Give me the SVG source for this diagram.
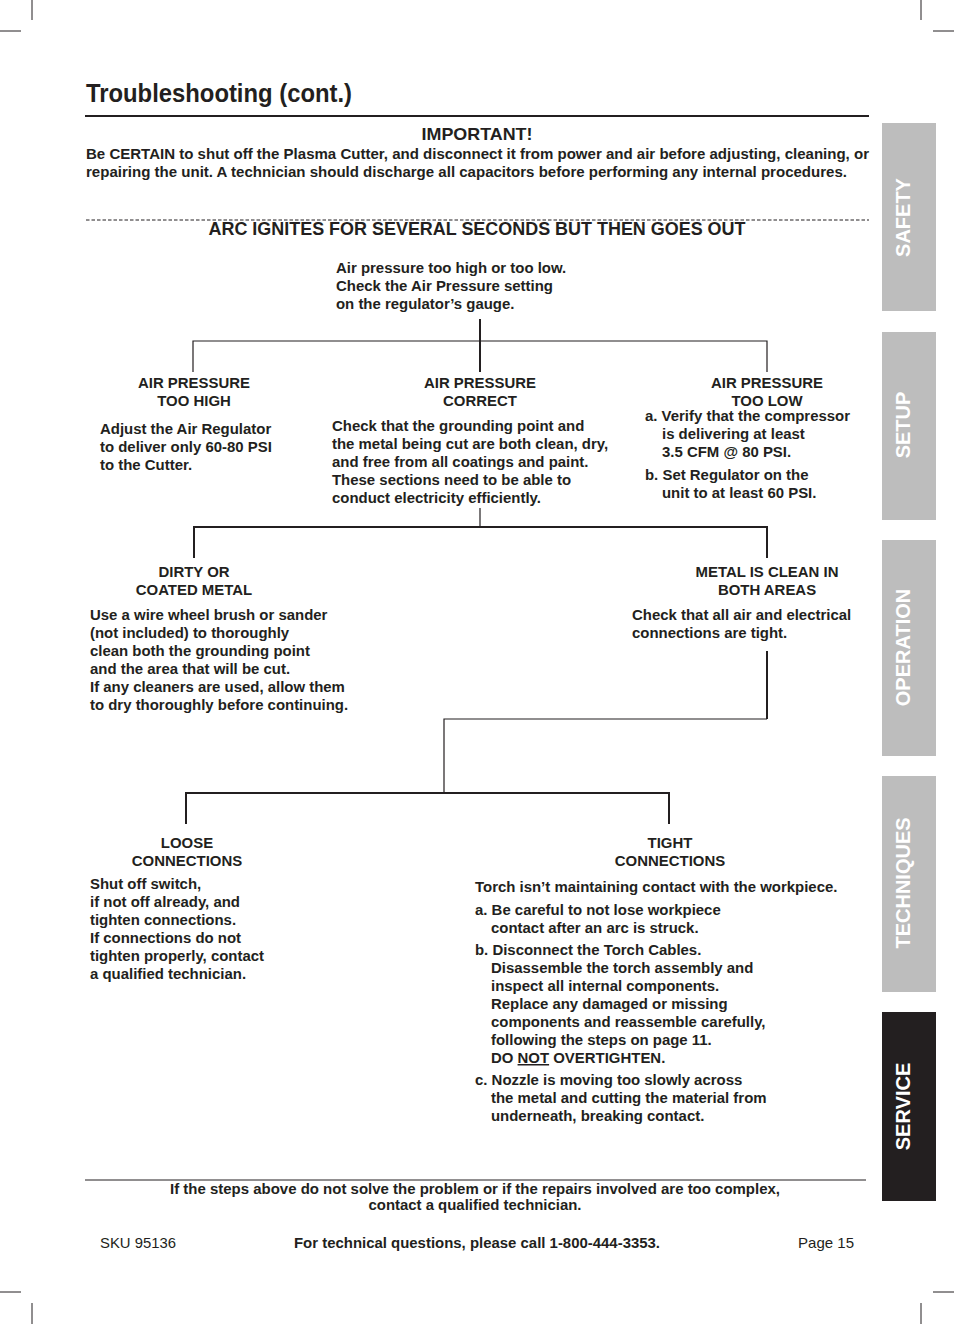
<svg xmlns="http://www.w3.org/2000/svg" width="954" height="1324" viewBox="0 0 954 1324">
<style>
text{font-family:"Liberation Sans",Arial,Helvetica,sans-serif;fill:#231f20}
.b{font-weight:bold;font-size:14.95px}
.m{text-anchor:middle}
.n{font-family:"Liberation Sans Narrow","Liberation Sans",Arial,sans-serif}
.tab{font-weight:bold;font-size:20px;fill:#ffffff;text-anchor:middle}
.thin{stroke:#231f20;stroke-width:1.2;fill:none}
.thick{stroke:#231f20;stroke-width:2;fill:none}
.crop{stroke:#231f20;stroke-width:1}
</style>
<rect width="954" height="1324" fill="#ffffff"/>
<g id="cropmarks">
<line class="crop" x1="32" y1="0" x2="32" y2="20"/>
<line class="crop" x1="0" y1="31" x2="21" y2="31"/>
<line class="crop" x1="921" y1="0" x2="921" y2="20"/>
<line class="crop" x1="933" y1="31" x2="954" y2="31"/>
<line class="crop" x1="32" y1="1303" x2="32" y2="1324"/>
<line class="crop" x1="0" y1="1292" x2="21" y2="1292"/>
<line class="crop" x1="921" y1="1303" x2="921" y2="1324"/>
<line class="crop" x1="933" y1="1292" x2="954" y2="1292"/>
</g>
<g id="tabs">
<rect x="882" y="123" width="54" height="188" fill="#bdbdbd"/>
<rect x="882" y="332" width="54" height="188" fill="#bdbdbd"/>
<rect x="882" y="540" width="54" height="216" fill="#bdbdbd"/>
<rect x="882" y="776" width="54" height="216" fill="#bdbdbd"/>
<rect x="882" y="1012" width="54" height="189" fill="#231f20"/>
<text class="tab" transform="translate(910,217.5) rotate(-90)">SAFETY</text>
<text class="tab" transform="translate(910,425) rotate(-90)">SETUP</text>
<text class="tab" transform="translate(910,647.5) rotate(-90)">OPERATION</text>
<text class="tab" transform="translate(910,883) rotate(-90)">TECHNIQUES</text>
<text class="tab" transform="translate(910,1106.5) rotate(-90)">SERVICE</text>
</g>
<g id="header">
<text class="n" x="86" y="102" font-size="25" font-weight="bold" textLength="266" lengthAdjust="spacingAndGlyphs">Troubleshooting (cont.)</text>
<line x1="85" y1="116" x2="869" y2="116" stroke="#231f20" stroke-width="2"/>
<text class="n m" x="477" y="140" font-size="17" font-weight="bold" textLength="111" lengthAdjust="spacingAndGlyphs">IMPORTANT!</text>
<text class="n" x="86" y="159" font-size="15" font-weight="bold" textLength="783" lengthAdjust="spacingAndGlyphs">Be CERTAIN to shut off the Plasma Cutter, and disconnect it from power and air before adjusting, cleaning, or</text>
<text class="n" x="86" y="177" font-size="15" font-weight="bold" textLength="761" lengthAdjust="spacingAndGlyphs">repairing the unit.  A technician should discharge all capacitors before performing any internal procedures.</text>
<line x1="86" y1="220" x2="869" y2="220" stroke="#231f20" stroke-width="1" stroke-dasharray="3.5 2"/>
<text class="n m" x="477" y="235" font-size="18" font-weight="bold" textLength="537" lengthAdjust="spacingAndGlyphs">ARC IGNITES FOR SEVERAL SECONDS BUT THEN GOES OUT</text>
</g>
<g id="connectors">
<line class="thick" x1="480" y1="319" x2="480" y2="372"/>
<polyline class="thin" points="193,372 193,341 767,341 767,372"/>
<line class="thin" x1="480" y1="508" x2="480" y2="527"/>
<polyline class="thick" points="194,558 194,527 767,527 767,558"/>
<polyline class="thick" points="767,651 767,719"/>
<polyline class="thin" points="767,719 444,719 444,793"/>
<polyline class="thick" points="186,824 186,793 669,793 669,824"/>
</g>
<g id="node-root">
<text class="b" x="336" y="273">Air pressure too high or too low.</text>
<text class="b" x="336" y="291">Check the Air Pressure setting</text>
<text class="b" x="336" y="309">on the regulator’s gauge.</text>
</g>
<g id="node-too-high">
<text class="b m" x="194" y="388">AIR PRESSURE</text>
<text class="b m" x="194" y="406">TOO HIGH</text>
<text class="b" x="100" y="434">Adjust the Air Regulator</text>
<text class="b" x="100" y="452">to deliver only 60-80 PSI</text>
<text class="b" x="100" y="470">to the Cutter.</text>
</g>
<g id="node-correct">
<text class="b m" x="480" y="388">AIR PRESSURE</text>
<text class="b m" x="480" y="406">CORRECT</text>
<text class="b" x="332" y="431">Check that the grounding point and</text>
<text class="b" x="332" y="449">the metal being cut are both clean, dry,</text>
<text class="b" x="332" y="467">and free from all coatings and paint.</text>
<text class="b" x="332" y="485">These sections need to be able to</text>
<text class="b" x="332" y="503">conduct electricity efficiently.</text>
</g>
<g id="node-too-low">
<text class="b m" x="767" y="388">AIR PRESSURE</text>
<text class="b m" x="767" y="406">TOO LOW</text>
<text class="b" x="645" y="421">a. Verify that the compressor</text>
<text class="b" x="662" y="439">is delivering at least</text>
<text class="b" x="662" y="457">3.5 CFM @ 80 PSI.</text>
<text class="b" x="645" y="480">b. Set Regulator on the</text>
<text class="b" x="662" y="498">unit to at least 60 PSI.</text>
</g>
<g id="node-dirty">
<text class="b m" x="194" y="577">DIRTY OR</text>
<text class="b m" x="194" y="595">COATED METAL</text>
<text class="b" x="90" y="620">Use a wire wheel brush or sander</text>
<text class="b" x="90" y="638">(not included) to thoroughly</text>
<text class="b" x="90" y="656">clean both the grounding point</text>
<text class="b" x="90" y="674">and the area that will be cut.</text>
<text class="b" x="90" y="692">If any cleaners are used, allow them</text>
<text class="b" x="90" y="710">to dry thoroughly before continuing.</text>
</g>
<g id="node-clean">
<text class="b m" x="767" y="577">METAL IS CLEAN IN</text>
<text class="b m" x="767" y="595">BOTH AREAS</text>
<text class="b" x="632" y="620">Check that all air and electrical</text>
<text class="b" x="632" y="638">connections are tight.</text>
</g>
<g id="node-loose">
<text class="b m" x="187" y="848">LOOSE</text>
<text class="b m" x="187" y="866">CONNECTIONS</text>
<text class="b" x="90" y="889">Shut off switch,</text>
<text class="b" x="90" y="907">if not off already, and</text>
<text class="b" x="90" y="925">tighten connections.</text>
<text class="b" x="90" y="943">If connections do not</text>
<text class="b" x="90" y="961">tighten properly, contact</text>
<text class="b" x="90" y="979">a qualified technician.</text>
</g>
<g id="node-tight">
<text class="b m" x="670" y="848">TIGHT</text>
<text class="b m" x="670" y="866">CONNECTIONS</text>
<text class="b" x="475" y="892">Torch isn’t maintaining contact with the workpiece.</text>
<text class="b" x="475" y="915">a. Be careful to not lose workpiece</text>
<text class="b" x="491" y="933">contact after an arc is struck.</text>
<text class="b" x="475" y="955">b. Disconnect the Torch Cables.</text>
<text class="b" x="491" y="973">Disassemble the torch assembly and</text>
<text class="b" x="491" y="991">inspect all internal components.</text>
<text class="b" x="491" y="1009">Replace any damaged or missing</text>
<text class="b" x="491" y="1027">components and reassemble carefully,</text>
<text class="b" x="491" y="1045">following the steps on page 11.</text>
<text class="b" x="491" y="1063">DO <tspan text-decoration="underline">NOT</tspan> OVERTIGHTEN.</text>
<text class="b" x="475" y="1085">c. Nozzle is moving too slowly across</text>
<text class="b" x="491" y="1103">the metal and cutting the material from</text>
<text class="b" x="491" y="1121">underneath, breaking contact.</text>
</g>
<g id="footer">
<line x1="85" y1="1180" x2="866" y2="1180" stroke="#231f20" stroke-width="1"/>
<text class="n m" x="475" y="1194" font-size="15" font-weight="bold" textLength="610" lengthAdjust="spacingAndGlyphs">If the steps above do not solve the problem or if the repairs involved are too complex,</text>
<text class="n m" x="475" y="1210" font-size="15" font-weight="bold" textLength="213" lengthAdjust="spacingAndGlyphs">contact a qualified technician.</text>
<text class="n" x="100" y="1248" font-size="15" textLength="76" lengthAdjust="spacingAndGlyphs">SKU 95136</text>
<text class="n" x="294" y="1248" font-size="15" font-weight="bold" textLength="366" lengthAdjust="spacingAndGlyphs">For technical questions, please call 1-800-444-3353.</text>
<text class="n" x="798" y="1248" font-size="15" textLength="56" lengthAdjust="spacingAndGlyphs">Page 15</text>
</g>
</svg>
